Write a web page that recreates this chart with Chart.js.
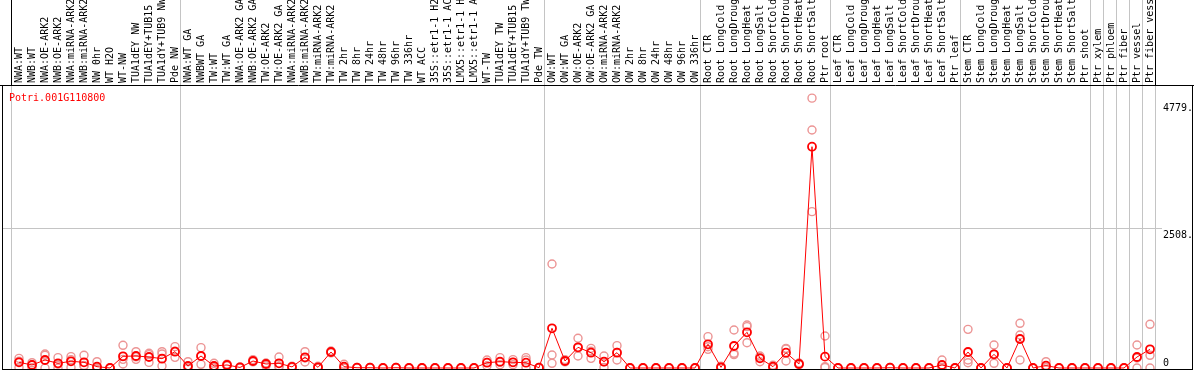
<!DOCTYPE html>
<html><head><meta charset="utf-8">
<script src="https://cdn.jsdelivr.net/npm/chart.js@4"></script>
<style>html,body{margin:0;padding:0;background:#fff}canvas{display:block}</style>
</head><body>
<div style="width:1194px;height:370px"><canvas id="c" width="1194" height="370"></canvas></div>
<script>
const title = 'Potri.001G110800';
const categories = [
 'NWA:WT','NWB:WT','NWA:OE-ARK2','NWB:OE-ARK2','NWA:miRNA-ARK2','NWB:miRNA-ARK2','NW 0hr','WT H2O','WT-NW','TUA1dEY NW','TUA1dEY+TUB15 ','TUA1dY+TUB9 NW','Pde NW',
 'NWA:WT GA','NWBWT GA','TW:WT','TW:WT GA','NWA:OE-ARK2 GA','NWB:OE-ARK2 GA','TW:OE-ARK2','TW:OE-ARK2 GA','NWA:miRNA-ARK2','NWB:miRNA-ARK2','TW:miRNA-ARK2','TW:miRNA-ARK2',
 'TW 2hr','TW 8hr','TW 24hr','TW 48hr','TW 96hr','TW 336hr','WT ACC','35S::etr1-1 H2','35S::etr1-1 AC','LMX5::etr1-1 H','LMX5::etr1-1 A','WT-TW','TUA1dEY TW','TUA1dEY+TUB15 ','TUA1dY+TUB9 TW','Pde TW',
 'OW:WT','OW:WT GA','OW:OE-ARK2','OW:OE-ARK2 GA','OW:miRNA-ARK2','OW:miRNA-ARK2','OW 2hr','OW 8hr','OW 24hr','OW 48hr','OW 96hr','OW 336hr',
 'Root CTR','Root LongCold','Root LongDroug','Root LongHeat','Root LongSalt','Root ShortCold','Root ShortDrou','Root ShortHeat','Root ShortSalt','Ptr root',
 'Leaf CTR','Leaf LongCold','Leaf LongDroug','Leaf LongHeat','Leaf LongSalt','Leaf ShortCold','Leaf ShortDrou','Leaf ShortHeat','Leaf ShortSalt','Ptr leaf',
 'Stem CTR','Stem LongCold','Stem LongDroug','Stem LongHeat','Stem LongSalt','Stem ShortCold','Stem ShortDrou','Stem ShortHeat','Stem ShortSalt','Ptr shoot',
 'Ptr xylem','Ptr phloem','Ptr fiber','Ptr vessel','Ptr fiber vess'
];
const meanValues = [
 102,54,143,84,120,102,24,0,209,215,197,167,292,
 36,215,36,54,10,125,72,84,20,191,12,286,24,5,5,0,5,0,0,0,0,0,0,95,113,102,95,5,
 711,125,370,274,113,274,0,0,0,0,0,0,
 424,12,394,639,173,24,274,72,3961,203,
 0,0,0,0,5,0,0,0,54,0,
 286,0,245,0,519,0,42,0,0,0,
 0,0,0,197,334
];
const rep1 = [
 173,95,250,185,203,227,113,0,406,292,263,292,382,
 113,364,84,70,20,150,90,197,30,292,30,304,66,10,10,0,10,0,0,0,0,0,0,143,185,150,185,10,
 1862,150,532,352,215,400,0,0,0,0,0,0,
 561,30,680,770,215,50,352,90,4830,573,
 0,0,0,0,10,0,0,0,143,0,
 692,0,412,0,800,0,113,0,0,0,
 0,0,0,412,782
];
const rep2 = [
 120,60,227,70,150,36,0,0,155,155,240,250,191,
 0,66,20,40,5,110,40,30,10,107,5,270,5,0,0,0,5,0,0,0,0,0,0,40,60,60,143,0,
 233,110,215,173,10,143,0,0,0,0,0,0,
 334,5,263,740,113,10,125,60,4260,24,
 0,0,0,0,0,0,0,0,10,0,
 143,0,84,0,591,0,10,0,0,0,
 0,0,0,0,227
];
const rep3 = [
 10,5,0,0,10,45,0,0,72,200,100,36,300,
 0,215,0,50,0,120,80,20,20,180,0,280,0,5,5,0,0,0,0,0,0,0,0,100,100,100,10,5,
 84,120,360,300,113,280,0,0,0,0,0,0,
 380,0,240,453,190,10,340,70,2798,10,
 0,0,0,0,5,0,0,0,10,0,
 95,0,245,0,143,0,10,0,0,0,
 0,0,0,180,0
];
const yTicks = [0, 2508, 4779];
const yTickLabels = ['0', '2508.', '4779.'];
const groupEnds = [-1, 12, 40, 52, 62, 72, 82, 83, 84, 85, 86, 87];

const FONT = '10px "DejaVu Sans Mono", monospace';
const pts = arr => arr.map((v, i) => ({x: i, y: v}));
const repStyle = {
  type: 'scatter', showLine: false, pointRadius: 4, pointHoverRadius: 4,
  pointBorderColor: '#ec9494', pointBackgroundColor: 'rgba(0,0,0,0)', pointBorderWidth: 1.4
};

const decor = {
  id: 'decor',
  beforeDatasetsDraw(chart) {
    const {ctx, chartArea: a, scales: {x, y}} = chart;
    ctx.save();
    ctx.strokeStyle = '#c4c4c4';
    ctx.lineWidth = 1;
    const gy = Math.round(y.getPixelForValue(yTicks[1])) + 0.5;
    ctx.beginPath(); ctx.moveTo(a.left, gy); ctx.lineTo(1162, gy); ctx.stroke();
    groupEnds.forEach((k, j) => {
      const px = Math.round(x.getPixelForValue(k + 0.4)) + 0.5;
      const edge = j === 0 || j === groupEnds.length - 1;
      ctx.strokeStyle = '#c4c4c4';
      ctx.beginPath(); ctx.moveTo(px, edge ? a.top : 0); ctx.lineTo(px, a.bottom); ctx.stroke();
      if (edge) {
        ctx.strokeStyle = '#000';
        ctx.beginPath(); ctx.moveTo(px, 0); ctx.lineTo(px, a.top); ctx.stroke();
      }
    });
    ctx.fillStyle = '#000';
    ctx.font = FONT;
    ctx.textAlign = 'left';
    ctx.textBaseline = 'alphabetic';
    categories.forEach((lab, i) => {
      const px = x.getPixelForValue(i);
      ctx.save();
      ctx.translate(px + 3, a.top - 2);
      ctx.rotate(-Math.PI / 2);
      ctx.fillText(lab, 0, 0);
      ctx.restore();
    });
    ctx.fillStyle = '#ff0000';
    ctx.fillText(title, 9, 101);
    ctx.restore();
  },
  afterDatasetsDraw(chart) {
    const {ctx, chartArea: a, scales: {y}} = chart;
    ctx.save();
    ctx.strokeStyle = '#000';
    ctx.lineWidth = 1;
    ctx.beginPath();
    ctx.moveTo(0, a.top + 0.5); ctx.lineTo(1194, a.top + 0.5);
    ctx.moveTo(a.left + 0.5, a.top); ctx.lineTo(a.left + 0.5, 370);
    ctx.moveTo(a.left, a.bottom + 0.5); ctx.lineTo(a.right, a.bottom + 0.5);
    ctx.moveTo(a.right - 0.5, a.top); ctx.lineTo(a.right - 0.5, a.bottom);
    ctx.stroke();
    ctx.fillStyle = '#000';
    ctx.font = FONT;
    ctx.textAlign = 'left';
    ctx.textBaseline = 'alphabetic';
    yTicks.forEach((v, i) => {
      const py = y.getPixelForValue(v);
      ctx.fillText(yTickLabels[i], 1163, v === 0 ? py - 2 : py + 10);
    });
    ctx.restore();
  }
};

new Chart(document.getElementById('c'), {
  type: 'line',
  data: {
    datasets: [
      {data: pts(meanValues), borderColor: '#ff0000', borderWidth: 1, tension: 0,
       pointRadius: 4, pointHoverRadius: 4, pointBorderColor: '#ff0000',
       pointBackgroundColor: 'rgba(0,0,0,0)', pointBorderWidth: 1.8},
      Object.assign({data: pts(rep1)}, repStyle),
      Object.assign({data: pts(rep2)}, repStyle),
      Object.assign({data: pts(rep3)}, repStyle)
    ]
  },
  options: {
    responsive: false, animation: false, devicePixelRatio: 1,
    layout: {autoPadding: false, padding: {top: 85, left: 2, right: 1, bottom: 1}},
    scales: {
      x: {type: 'linear', display: false, min: -17 / 13, max: 87 + 43 / 13},
      y: {type: 'linear', display: false, min: -17.9, max: 5065.2}
    },
    plugins: {legend: {display: false}, tooltip: {enabled: false}}
  },
  plugins: [decor]
});
</script>
</body></html>
